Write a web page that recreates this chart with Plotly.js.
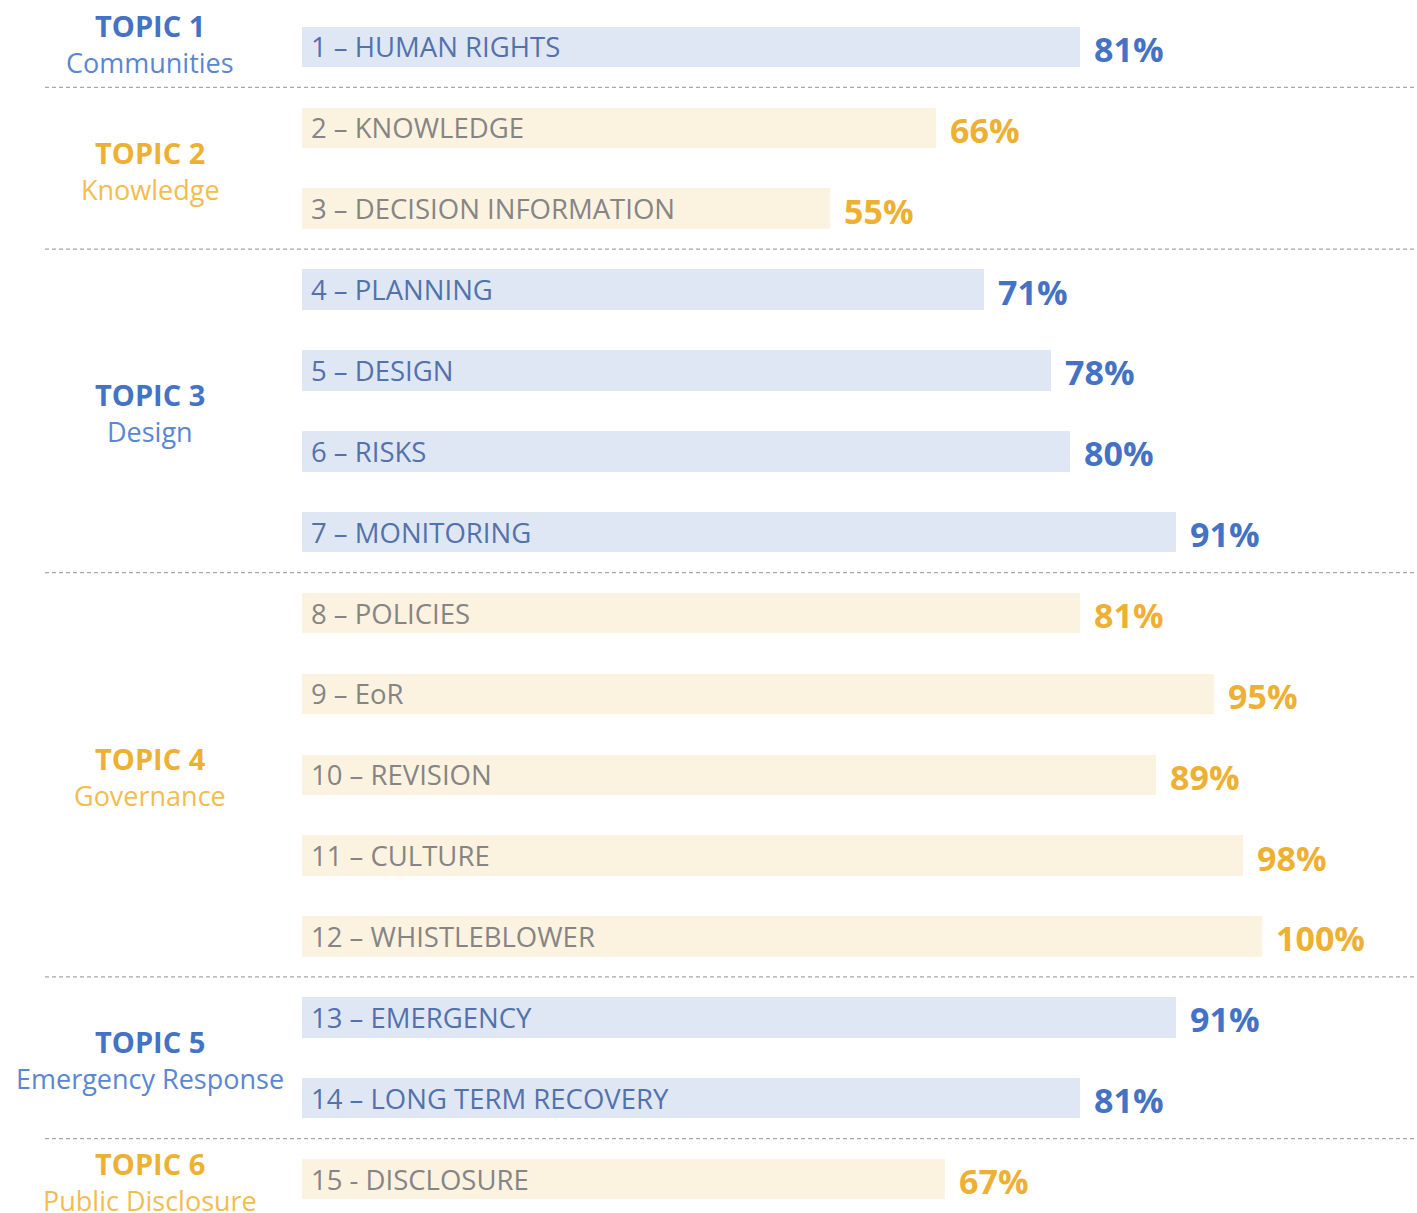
<!DOCTYPE html>
<html>
<head>
<meta charset="utf-8">
<script src="https://cdn.plot.ly/plotly-3.0.1.min.js"></script>
<style>html,body{margin:0;padding:0;background:#fff;}#chart{width:1417px;height:1213px;}</style>
</head>
<body>
<div id="chart"></div>
<script>
// ---- data ----
const itemLabels = [
  "1 – HUMAN RIGHTS", "2 – KNOWLEDGE", "3 – DECISION INFORMATION",
  "4 – PLANNING", "5 – DESIGN", "6 – RISKS", "7 – MONITORING",
  "8 – POLICIES", "9 – EoR", "10 – REVISION", "11 – CULTURE", "12 – WHISTLEBLOWER",
  "13 – EMERGENCY", "14 – LONG TERM RECOVERY", "15 - DISCLOSURE"
];
const itemValues = [81, 66, 55, 71, 78, 80, 91, 81, 95, 89, 98, 100, 91, 81, 67];
const itemTopic = [1, 2, 2, 3, 3, 3, 3, 4, 4, 4, 4, 4, 5, 5, 6];
const topicTitles = ["TOPIC 1", "TOPIC 2", "TOPIC 3", "TOPIC 4", "TOPIC 5", "TOPIC 6"];
const topicNames = ["Communities", "Knowledge", "Design", "Governance", "Emergency Response", "Public Disclosure"];

// ---- styles ----
const FONT = "Open Sans, Noto Sans, sans-serif";
const pal = {
  blue: {bar: "#E0E7F4", label: "#5272AC", value: "#4472C4", title: "#4472C4", sub: "#5A86D2"},
  orange: {bar: "#FCF2E0", label: "#858585", value: "#EEB033", title: "#EEB033", sub: "#F2BD4E"}
};
const topicColor = t => (t % 2 === 1 ? pal.blue : pal.orange);

const yIdx = itemLabels.map((_, i) => i);

const trace = {
  type: "bar",
  orientation: "h",
  x: itemValues,
  y: yIdx,
  width: 0.5,
  marker: {color: itemTopic.map(t => topicColor(t).bar), line: {width: 0}},
  hoverinfo: "skip"
};

const annotations = [];
itemLabels.forEach((lab, i) => {
  const c = topicColor(itemTopic[i]);
  annotations.push({
    x: 0, y: i, xref: "x", yref: "y", text: lab, showarrow: false,
    xanchor: "left", yanchor: "middle", xshift: 7,
    font: {family: FONT, size: 27.5, color: c.label}
  });
  annotations.push({
    x: itemValues[i], y: i, xref: "x", yref: "y", text: "<b>" + itemValues[i] + "%</b>", showarrow: false,
    xanchor: "left", yanchor: "middle", xshift: 12, yshift: -2,
    font: {family: FONT, size: 34, color: c.value}
  });
});

// topic group centres & separators derived from itemTopic
const shapes = [];
topicTitles.forEach((tt, k) => {
  const t = k + 1;
  const rows = yIdx.filter(i => itemTopic[i] === t);
  const yc = (rows[0] + rows[rows.length - 1]) / 2;
  const c = topicColor(t);
  const up = rows.length === 1 && t === 1 ? 5 : 0;
  annotations.push({
    x: 150 / 1417, y: yc, xref: "paper", yref: "y", text: "<b>" + tt + "</b>", showarrow: false,
    xanchor: "center", yanchor: "middle", yshift: 16 + up,
    font: {family: FONT, size: 29, color: c.title}
  });
  annotations.push({
    x: 150 / 1417, y: yc, xref: "paper", yref: "y", text: topicNames[k], showarrow: false,
    xanchor: "center", yanchor: "middle", yshift: -21 + up,
    font: {family: FONT, size: 27, color: c.sub}
  });
  if (k < topicTitles.length - 1) {
    const yb = rows[rows.length - 1] + 0.5;
    shapes.push({
      type: "line", xref: "paper", yref: "y", x0: 45 / 1417, x1: 1, y0: yb, y1: yb,
      line: {color: "#A8A8A8", width: 1.2, dash: "4px,3px"}
    });
  }
});

const layout = {
  width: 1417, height: 1213,
  margin: {l: 0, r: 0, t: 0, b: 0},
  paper_bgcolor: "#ffffff", plot_bgcolor: "#ffffff",
  showlegend: false,
  xaxis: {range: [-31.46, 116.15], visible: false, fixedrange: true},
  yaxis: {range: [14.42, -0.581], visible: false, fixedrange: true},
  bargap: 0,
  annotations: annotations,
  shapes: shapes
};

Plotly.newPlot("chart", [trace], layout, {staticPlot: true, displayModeBar: false});
</script>
</body>
</html>
